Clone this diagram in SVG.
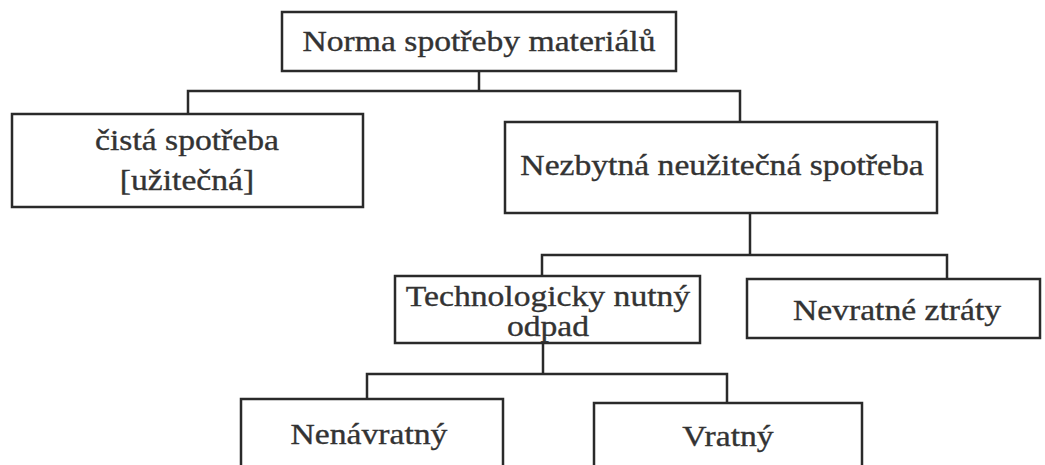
<svg xmlns="http://www.w3.org/2000/svg" width="1045" height="465" viewBox="0 0 1045 465">
  <style>
    .box { fill: #ffffff; stroke: #2a2a2a; stroke-width: 2.5; }
    .conn { fill: none; stroke: #2a2a2a; stroke-width: 2.5; }
    .lbl { font-family: "Liberation Serif", "Times New Roman", serif; font-size: 29px; fill: #333333; stroke: #333333; stroke-width: 0.35; text-anchor: middle; }
  </style>
  <rect width="1045" height="465" fill="#ffffff"/>

  <!-- tree connectors: stem from each parent, bus line, stems to children -->
  <g id="connectors">
    <polyline class="conn" points="479,71 479,91"/>
    <polyline class="conn" points="188,114 188,91 740,91 740,122"/>
    <polyline class="conn" points="750,213 750,255"/>
    <polyline class="conn" points="542,276 542,255 947,255 947,279"/>
    <polyline class="conn" points="543,343 543,374"/>
    <polyline class="conn" points="367,399 367,374 727,374 727,403"/>
  </g>

  <!-- labels use a wide serif face: scaled horizontally by 1.16 -->
  <g id="norma">
    <rect class="box" x="282" y="12" width="394" height="59"/>
    <text class="lbl" transform="translate(479,51) scale(1.16,1)">Norma spotřeby materiálů</text>
  </g>

  <g id="cista">
    <rect class="box" x="12" y="114" width="351" height="93"/>
    <text class="lbl" transform="translate(187,150) scale(1.16,1)">čistá spotřeba</text>
    <text class="lbl" transform="translate(187,190) scale(1.16,1)">[užitečná]</text>
  </g>

  <g id="nezbytna">
    <rect class="box" x="505" y="122" width="432" height="91"/>
    <text class="lbl" transform="translate(722,175) scale(1.16,1)">Nezbytná neužitečná spotřeba</text>
  </g>

  <g id="technologicky">
    <rect class="box" x="395" y="276" width="305" height="67"/>
    <text class="lbl" transform="translate(548,306) scale(1.16,1)">Technologicky nutný</text>
    <text class="lbl" transform="translate(548,336) scale(1.16,1)">odpad</text>
  </g>

  <g id="nevratne">
    <rect class="box" x="747" y="279" width="293" height="59"/>
    <text class="lbl" transform="translate(897,320) scale(1.16,1)">Nevratné ztráty</text>
  </g>

  <g id="nenavratny">
    <rect class="box" x="241" y="399" width="262" height="80"/>
    <text class="lbl" transform="translate(369,444) scale(1.16,1)">Nenávratný</text>
  </g>

  <g id="vratny">
    <rect class="box" x="594" y="403" width="268" height="80"/>
    <text class="lbl" transform="translate(728,446) scale(1.16,1)">Vratný</text>
  </g>
</svg>
